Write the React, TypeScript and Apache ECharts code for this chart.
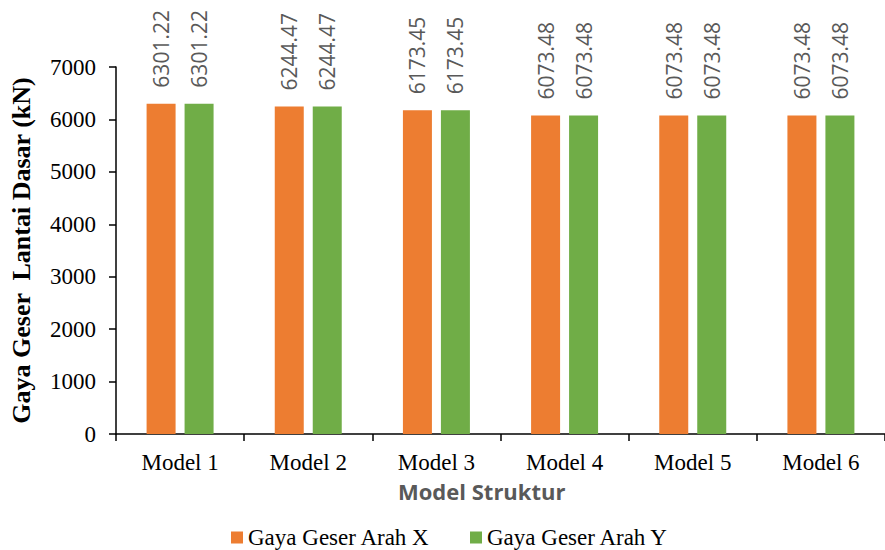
import React, { useEffect, useRef } from "react";
import * as echarts from "echarts";

const categories = ["Model 1", "Model 2", "Model 3", "Model 4", "Model 5", "Model 6"];
const seriesX = [6301.22, 6244.47, 6173.45, 6073.48, 6073.48, 6073.48];
const seriesY = [6301.22, 6244.47, 6173.45, 6073.48, 6073.48, 6073.48];
const seriesNames = ["Gaya Geser Arah X", "Gaya Geser Arah Y"];

const serif = "'Liberation Serif', 'Times New Roman', serif";
const sans = "'Open Sans', 'Noto Sans', sans-serif";

export default function App() {
  const ref = useRef<HTMLDivElement>(null);
  useEffect(() => {
    if (!ref.current) return;
    const chart = echarts.init(ref.current, null, { renderer: "svg" });
    const label = {
      show: true,
      position: "top",
      rotate: 90,
      align: "left",
      verticalAlign: "middle",
      distance: 16,
      fontFamily: sans,
      fontSize: 21,
      color: "#595959",
      formatter: (p: any) => p.value.toFixed(2),
    };
    chart.setOption({
      animation: false,
      grid: { left: 111, right: -12, top: 67, bottom: 116, containLabel: false },
      xAxis: {
        type: "category",
        data: categories,
        axisLine: { lineStyle: { color: "#000", width: 1.5 } },
        axisTick: { show: true, length: 7, lineStyle: { color: "#000", width: 1.5 } },
        axisLabel: { fontFamily: serif, fontSize: 23, color: "#000", margin: 17 },
      },
      yAxis: {
        type: "value",
        min: 0,
        max: 7000,
        interval: 1000,
        name: "Gaya Geser  Lantai Dasar (kN)",
        nameLocation: "middle",
        nameGap: 82,
        nameTextStyle: { fontFamily: serif, fontSize: 26, fontWeight: "bold", color: "#000" },
        splitLine: { show: false },
        axisLine: { show: true, lineStyle: { color: "#000", width: 1.5 } },
        axisTick: { show: true, length: 7, lineStyle: { color: "#000", width: 1.5 } },
        axisLabel: {
          fontFamily: serif,
          fontSize: 23,
          color: "#000",
          margin: 20,
          formatter: (v: number) => String(v),
        },
      },
      legend: {
        data: seriesNames,
        left: 226,
        top: 521,
        icon: "rect",
        itemWidth: 12,
        itemHeight: 12,
        itemGap: 40,
        textStyle: { fontFamily: serif, fontSize: 23, color: "#000" },
      },
      graphic: [
        {
          type: "text",
          left: 398,
          top: 480,
          style: { text: "Model Struktur", fontFamily: sans, fontSize: 22, fontWeight: "bold", fill: "#595959" },
        },
      ],
      series: [
        {
          name: seriesNames[0],
          type: "bar",
          data: seriesX,
          barWidth: 29,
          barGap: "31%",
          itemStyle: { color: "#ED7D31" },
          label,
        },
        {
          name: seriesNames[1],
          type: "bar",
          data: seriesY,
          barWidth: 29,
          itemStyle: { color: "#70AD47" },
          label,
        },
      ],
    });
    return () => chart.dispose();
  }, []);
  return <div ref={ref} style={{ position: "absolute", left: 0, top: 0, width: 885, height: 550 }} />;
}
